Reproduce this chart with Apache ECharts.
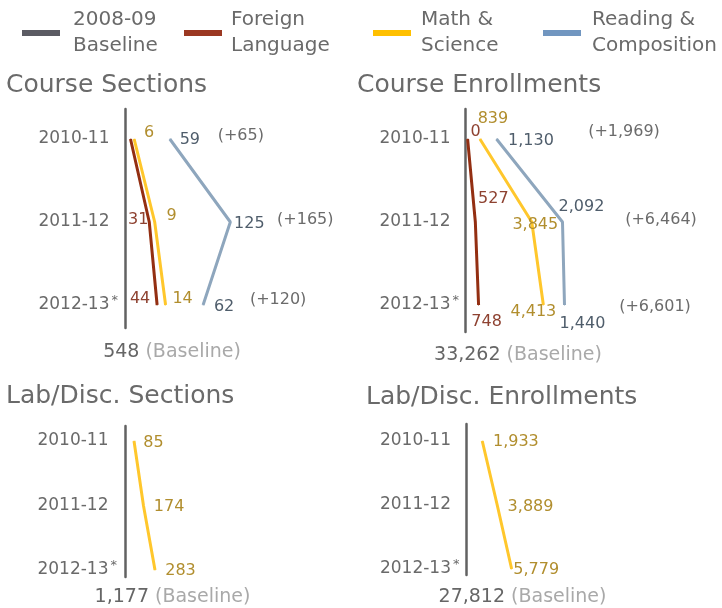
<!DOCTYPE html>
<html><head><meta charset="utf-8">
<script src="https://cdn.jsdelivr.net/npm/echarts@6/dist/echarts.min.js"></script>
<style>html,body{margin:0;padding:0;background:#fff}#c{width:722px;height:608px}</style>
</head><body><div id="c"></div>
<script>
// ---------------- DATA ----------------
const years = ['2010-11', '2011-12', '2012-13*'];
const seriesNames = ['Baseline', 'Foreign Language', 'Math & Science', 'Reading & Composition'];
const legendLabels = ['2008-09\nBaseline', 'Foreign\nLanguage', 'Math &\nScience', 'Reading &\nComposition'];
const panelTitles = ['Course Sections', 'Course Enrollments', 'Lab/Disc. Sections', 'Lab/Disc. Enrollments'];
const baselines = [548, 33262, 1177, 27812];

const sectForeign = [0, 31, 44];
const sectMath = [6, 9, 14];
const sectReading = [59, 125, 62];

const enrForeign = [0, 527, 748];
const enrMath = [839, 3845, 4413];
const enrReading = [1130, 2092, 1440];

const labSectMath = [85, 174, 283];
const labEnrMath = [1933, 3889, 5779];

// ---------------- STYLE / LAYOUT ----------------
const FONT = 'DejaVu Sans';
const TXT = '#6a6a6a';
const LINE = { base: '#5b5b63', fl: '#932f12', ms: '#ffc72c', rc: '#8ea6bd' };
const LEG = { base: '#5b5b63', fl: '#9b3822', ms: '#ffc000', rc: '#7196c0' };
const LBL = { fl: '#8e4231', ms: '#b18e2e', rc: '#4f5d6b', tot: '#6b6b6b' };
const legendX = [22, 184, 373, 543];
const legendTextPad = [8, 4, 5, 6];

const panels = [
  { zero: 130.5, scale: 0.605, max: 400, top: 139, bottom: 305, axisX: 125, axTop: 109, axBot: 328, margin: 12.5,
    title: [6, 85], base: [172, 352],
    lines: [
      { key: 'fl', vals: sectForeign, offs: [null, [-11, -2], [-17, -6]] },
      { key: 'ms', vals: sectMath, offs: [[15, -6], [17, -6], [17, -6]] },
      { key: 'rc', vals: sectReading, offs: [[20, 1], [19, 2], [21, 2]] }
    ], totOffs: [[71, -3], [75, -2], [75, -5]] },
  { zero: 467.6, scale: 0.01468, max: 10000, top: 139, bottom: 305, axisX: 465.7, axTop: 109, axBot: 332, margin: 8.6,
    title: [357, 85], base: [518, 355],
    lines: [
      { key: 'fl', vals: enrForeign, offs: [[8, -7], [18, -23], [8, 17]] },
      { key: 'ms', vals: enrMath, offs: [[13, -20], [3.5, 3], [-10, 7]] },
      { key: 'rc', vals: enrReading, offs: [[34.5, 2], [19, -15], [18, 19]] }
    ], totOffs: [[127.5, -7], [98.5, -2], [90.5, 2]] },
  { zero: 125, scale: 0.10606, max: 1000, top: 441, bottom: 570, axisX: 125, axTop: 426, axBot: 577, margin: 8,
    title: [6, 396], base: [172.5, 597.5],
    lines: [
      { key: 'ms', vals: labSectMath, offs: [[19.5, 1.6], [25.6, 1.7], [25.5, 1]] }
    ], totOffs: null },
  { zero: 467.5, scale: 0.00764, max: 10000, top: 441, bottom: 569, axisX: 466.7, axTop: 424, axBot: 575, margin: 8,
    title: [366, 397], base: [522.5, 597.5],
    lines: [
      { key: 'ms', vals: labEnrMath, offs: [[33.6, 1], [33.3, 1.7], [24.6, 1]] }
    ], totOffs: null }
];

const keyName = { fl: seriesNames[1], ms: seriesNames[2], rc: seriesNames[3] };
const fmtNum = v => Number(v).toLocaleString('en-US');

const grid = [], xAxis = [], yAxis = [], series = [], title = [];

panels.forEach((p, k) => {
  grid.push({ left: p.zero, top: p.top, width: p.max * p.scale, height: p.bottom - p.top });
  xAxis.push({ type: 'value', gridIndex: k, min: 0, max: p.max, show: false });
  yAxis.push({
    type: 'category', gridIndex: k, data: years, inverse: true, boundaryGap: false,
    axisLine: { show: false }, axisTick: { show: false }, splitLine: { show: false },
    axisLabel: {
      margin: p.margin,
      formatter: v => v.endsWith('*') ? '{n|' + v.slice(0, -1) + '}{s|*}' : '{n|' + v + '}{p| }',
      rich: {
        n: { fontFamily: FONT, fontSize: 17, color: TXT },
        s: { fontFamily: FONT, fontSize: 13, color: TXT, padding: [0, 0, 9, 2] },
        p: { fontFamily: FONT, fontSize: 13, width: 8.5 }
      }
    }
  });
  const stackName = 'stack' + k;
  p.lines.forEach(l => {
    series.push({
      type: 'line', name: keyName[l.key], xAxisIndex: k, yAxisIndex: k, stack: stackName,
      symbol: 'circle', symbolSize: 1, showSymbol: true, clip: false, silent: true,
      lineStyle: { color: LINE[l.key], width: 3 }, itemStyle: { color: LINE[l.key] },
      emphasis: { disabled: true },
      label: { show: true, position: 'inside', align: 'center', verticalAlign: 'middle',
        color: LBL[l.key], fontFamily: FONT, fontSize: 16, formatter: q => fmtNum(q.value) },
      data: l.vals.map((v, i) => ({ value: v, label: l.offs[i] ? { offset: l.offs[i] } : { show: false } }))
    });
  });
  if (p.totOffs) {
    const totals = years.map((_, i) => p.lines.reduce((s, l) => s + l.vals[i], 0));
    series.push({
      type: 'line', name: 'total' + k, xAxisIndex: k, yAxisIndex: k,
      symbol: 'circle', symbolSize: 1, showSymbol: true, clip: false, silent: true,
      lineStyle: { color: 'rgba(0,0,0,0)', width: 0 }, itemStyle: { color: 'rgba(0,0,0,0)' },
      emphasis: { disabled: true },
      label: { show: true, position: 'inside', align: 'center', verticalAlign: 'middle',
        color: LBL.tot, fontFamily: FONT, fontSize: 16, formatter: q => '(+' + fmtNum(q.value) + ')' },
      data: totals.map((v, i) => ({ value: v, label: { offset: p.totOffs[i] } }))
    });
  }
  title.push({
    text: panelTitles[k], left: p.title[0], top: p.title[1], padding: 0,
    textAlign: 'left', textVerticalAlign: 'middle',
    textStyle: { fontFamily: FONT, fontSize: 25, fontWeight: 'normal', color: TXT }
  });
  title.push({
    text: '{a|' + fmtNum(baselines[k]) + '} {b|(Baseline)}', left: p.base[0], top: p.base[1], padding: 0,
    textAlign: 'center', textVerticalAlign: 'middle',
    textStyle: { fontWeight: 'normal', fontFamily: FONT, fontSize: 19, rich: {
      a: { fontFamily: FONT, fontSize: 19, fontWeight: 'normal', color: '#666666' },
      b: { fontFamily: FONT, fontSize: 19, fontWeight: 'normal', color: '#a9a9a9' }
    } }
  });
});

// axis-line grids (the vertical baseline line of each panel)
panels.forEach((p, k) => {
  const gi = panels.length + k;
  grid.push({ left: p.axisX, top: p.axTop, width: 10, height: p.axBot - p.axTop });
  xAxis.push({ type: 'value', gridIndex: gi, show: false });
  yAxis.push({ type: 'value', gridIndex: gi, min: 0, max: 1,
    axisLine: { show: true, lineStyle: { color: '#626262', width: 2.5 } },
    axisTick: { show: false }, axisLabel: { show: false }, splitLine: { show: false } });
});

// empty series only to carry the baseline legend entry
series.push({ type: 'line', name: seriesNames[0], xAxisIndex: 0, yAxisIndex: 0, data: [],
  itemStyle: { color: LINE.base }, lineStyle: { color: LINE.base } });

const legendColors = [LEG.base, LEG.fl, LEG.ms, LEG.rc];
const legend = seriesNames.map((n, i) => ({
  left: legendX[i], top: 7, padding: 0, icon: 'rect', itemWidth: 38, itemHeight: 6,
  selectedMode: false,
  data: [{ name: n, itemStyle: { color: legendColors[i] } }],
  formatter: () => legendLabels[i],
  textStyle: { fontFamily: FONT, fontSize: 20, color: TXT, lineHeight: 26, padding: [0, 0, 0, legendTextPad[i]] }
}));

const chart = echarts.init(document.getElementById('c'), null, { renderer: 'canvas' });
chart.setOption({ animation: false, backgroundColor: '#ffffff', title, legend, grid, xAxis, yAxis, series });
</script>
</body></html>
